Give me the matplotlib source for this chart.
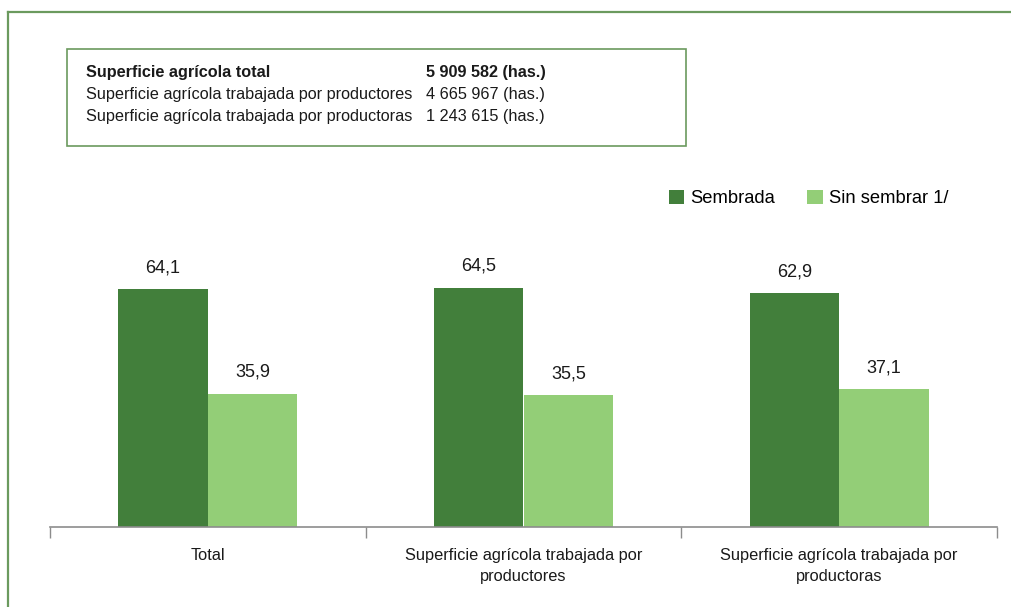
import numpy as np
import matplotlib.pyplot as plt
from matplotlib.lines import Line2D
from matplotlib.patches import Rectangle

plt.rcParams['font.family'] = ['Liberation Sans Narrow', 'Liberation Sans', 'DejaVu Sans']

categories = ['Total', 'Superficie agrícola trabajada por\nproductores',
              'Superficie agrícola trabajada por\nproductoras']
sembrada = [64.1, 64.5, 62.9]
sin_sembrar = [35.9, 35.5, 37.1]
labels_sembrada = ['64,1', '64,5', '62,9']
labels_sin = ['35,9', '35,5', '37,1']

box_names = ['Superficie agrícola total',
             'Superficie agrícola trabajada por productores',
             'Superficie agrícola trabajada por productoras']
box_values = ['5 909 582 (has.)', '4 665 967 (has.)', '1 243 615 (has.)']

dark = '#427F3B'
light = '#93CE77'
frame = '#6B9A5E'
W, H = 1012, 607

fig = plt.figure(figsize=(10.12, 6.07), dpi=100)

# outer frame (top and left lines)
fig.add_artist(Line2D([8 / W, 8 / W], [0, 1 - 12 / H], color=frame, lw=1.6))
fig.add_artist(Line2D([8 / W, 1], [1 - 12 / H, 1 - 12 / H], color=frame, lw=1.6))

# summary box
fig.add_artist(Rectangle((67 / W, 1 - 146 / H), (686 - 67) / W, (146 - 49) / H,
                         fill=False, edgecolor=frame, lw=1.2, transform=fig.transFigure))
for i, (n, v) in enumerate(zip(box_names, box_values)):
    y = 1 - (72 + 22.5 * i) / H
    w = 'bold' if i == 0 else 'normal'
    fig.text(86 / W, y, n, fontsize=11.7, fontweight=w, va='center', color='#1a1a1a')
    fig.text(426 / W, y, v, fontsize=11.7, fontweight=w, va='center', color='#1a1a1a')

ax = fig.add_axes([50 / W, 80 / H, (997 - 50) / W, (527 - 180) / H])
x = np.arange(len(categories))
bw = 0.284
b1 = ax.bar(x - bw / 2, sembrada, bw, color=dark, label='Sembrada')
b2 = ax.bar(x + bw / 2, sin_sembrar, bw, color=light, label='Sin sembrar 1/')
for bars, labs in [(b1, labels_sembrada), (b2, labels_sin)]:
    for b, l in zip(bars, labs):
        ax.text(b.get_x() + b.get_width() / 2, b.get_height() + 3.5, l,
                ha='center', va='bottom', fontsize=13, color='#1a1a1a')

ax.set_xlim(-0.5, 2.5)
ax.set_ylim(0, 347 / 3.713)
ax.set_yticks([])
for s in ['top', 'right', 'left']:
    ax.spines[s].set_visible(False)
ax.spines['bottom'].set_color('#8c8c8c')
ax.spines['bottom'].set_linewidth(1.2)
ax.set_xticks([-0.5, 0.5, 1.5, 2.5])
ax.set_xticklabels([])
ax.tick_params(axis='x', length=8, color='#8c8c8c', width=1)
ax.set_xticks(x, minor=True)
ax.set_xticklabels(categories, minor=True, fontsize=11.8, color='#1a1a1a', linespacing=1.55)
ax.tick_params(axis='x', which='minor', length=0, pad=15)

ax.legend(loc='upper left', bbox_to_anchor=(652 / W, 1 - 173 / H),
          bbox_transform=fig.transFigure,
          ncol=2, frameon=False, fontsize=13.2, handlelength=0.85, handleheight=0.85,
          handletextpad=0.35, columnspacing=1.75)

fig.savefig('out.png', dpi=100)
